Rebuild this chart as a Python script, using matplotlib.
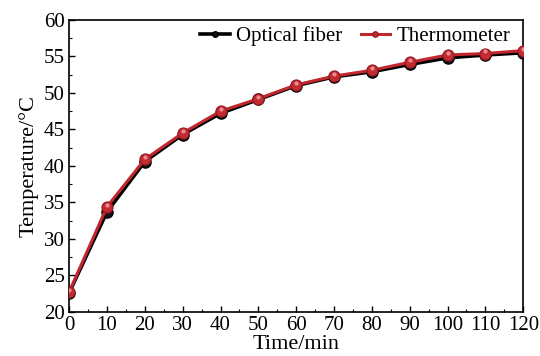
import matplotlib
matplotlib.use("Agg")
import matplotlib.pyplot as plt
import matplotlib.transforms as mtransforms
from matplotlib.ticker import MultipleLocator

plt.rcParams['font.family'] = ['Liberation Serif', 'DejaVu Serif']

# Heating curve, temperature read every 10 min
time_min = [0, 10, 20, 30, 40, 50, 60, 70, 80, 90, 100, 110, 120]
optical_fiber = [22.6, 33.7, 40.6, 44.3, 47.2, 49.1, 51.0, 52.2, 52.9, 53.9, 54.8, 55.2, 55.5]
thermometer = [22.7, 34.4, 40.9, 44.5, 47.5, 49.2, 51.1, 52.3, 53.1, 54.2, 55.2, 55.4, 55.8]

fig = plt.figure(figsize=(5.4, 3.56), dpi=100)
ax = fig.add_axes([0.128, 0.124, 0.841, 0.820])

ax.plot(time_min, optical_fiber, color='black', lw=2.6, marker='o', ms=8,
        mfc='#151515', mec='black', label='Optical fiber', zorder=2)
ax.plot(time_min, thermometer, color='#c0282e', lw=2.2, marker='o', ms=8,
        mfc='#c42a32', mec='#8e1a20', mew=0.8, label='Thermometer', zorder=3)

# small glossy spot on each ball marker
shine = mtransforms.offset_copy(ax.transData, fig=fig, x=0, y=1.5, units='points')
ax.plot(time_min, optical_fiber, ls='none', marker='o', ms=3, mfc='#555555',
        mec='none', transform=shine, zorder=2.5)
ax.plot(time_min, thermometer, ls='none', marker='o', ms=3, mfc='#ec8a90',
        mec='none', transform=shine, zorder=3.5)

ax.set_xlim(0, 120)
ax.set_ylim(20, 60)
ax.xaxis.set_major_locator(MultipleLocator(10))
ax.xaxis.set_minor_locator(MultipleLocator(5))
ax.yaxis.set_major_locator(MultipleLocator(5))
ax.yaxis.set_minor_locator(MultipleLocator(2.5))
ax.tick_params(which='both', direction='in', labelsize=15, top=False, right=False)
ax.tick_params(which='major', length=4, width=1, pad=3)
ax.tick_params(which='minor', length=2, width=0.8)
for s in ax.spines.values():
    s.set_linewidth(1.2)

ax.set_xlabel('Time/min', fontsize=16, labelpad=0)
ax.set_ylabel('Temperature/°C', fontsize=16, labelpad=4)

ax.legend(loc='upper right', ncol=2, frameon=False, fontsize=15,
          markerscale=0.5, handlelength=1.4, handletextpad=0.3,
          columnspacing=0.9, borderaxespad=0.1, borderpad=0.2,
          bbox_to_anchor=(0.985, 1.0))

fig.savefig('out.png', dpi=100)
